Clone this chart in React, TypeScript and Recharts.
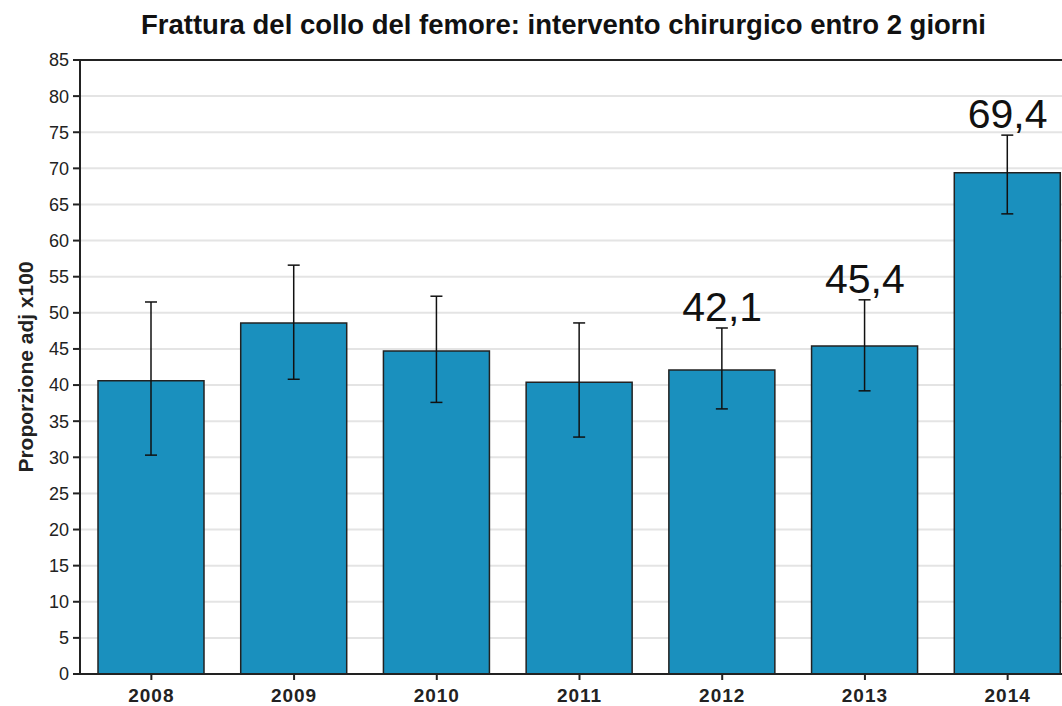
import { ComposedChart, Bar, Line, XAxis, YAxis, CartesianGrid, ErrorBar, LabelList, ReferenceLine, Label } from 'recharts';

const years = ['2008', '2009', '2010', '2011', '2012', '2013', '2014'];
const values = [40.6, 48.6, 44.7, 40.4, 42.1, 45.4, 69.4];
const lower = [30.3, 40.8, 37.6, 32.8, 36.7, 39.2, 63.7];
const upper = [51.5, 56.6, 52.3, 48.6, 47.9, 51.8, 74.6];
const labelled = ['2012', '2013', '2014'];
const yTicks = [0, 5, 10, 15, 20, 25, 30, 35, 40, 45, 50, 55, 60, 65, 70, 75, 80, 85];

const data = years.map((y, i) => ({
  year: y,
  value: values[i],
  err: [values[i] - lower[i], upper[i] - values[i]],
  labelPos: labelled.includes(y) ? upper[i] : null,
  labelText: labelled.includes(y) ? values[i].toFixed(1).replace('.', ',') : '',
}));

const font = '"Liberation Sans", Arial, sans-serif';

export default function App() {
  return (
    <div style={{ position: 'fixed', left: 0, top: 0, width: 1062, height: 706, overflow: 'hidden', background: '#fff', fontFamily: font }}>
      <div style={{ position: 'absolute', left: 0, top: 11, width: 1127, textAlign: 'center', fontSize: 27.5, lineHeight: '28px', fontWeight: 'bold', color: '#111' }}>
        Frattura del collo del femore: intervento chirurgico entro 2 giorni
      </div>
      <ComposedChart width={1100} height={706} data={data} margin={{ top: 60, right: 21, left: 0, bottom: 0 }}>
        <CartesianGrid vertical={false} stroke="#e4e4e4" strokeWidth={2} />
        <XAxis dataKey="year" height={32} stroke="#222" strokeWidth={2} tickSize={6} tickMargin={9}
          tick={{ fontSize: 19, fontWeight: 'bold', fill: '#222', fontFamily: font, letterSpacing: 1 }} />
        <YAxis width={80} domain={[0, 85]} ticks={yTicks} interval={0} stroke="#222" strokeWidth={2} tickSize={7} tickMargin={4}
          tick={{ fontSize: 18, fill: '#222', fontFamily: font }}>
          <Label content={({ viewBox }: any) => (
            <text x={0} y={0} transform={`translate(33, ${viewBox.y + viewBox.height / 2}) rotate(-90)`}
              textAnchor="middle" fontSize={21} fontWeight="bold" fill="#222" fontFamily={font}>
              Proporzione adj x100
            </text>
          )} />
        </YAxis>
        <ReferenceLine y={85} stroke="#222" strokeWidth={2} />
        <Bar dataKey="value" fill="#1a90be" stroke="#222" strokeWidth={1.5} barSize={106} isAnimationActive={false}>
          <ErrorBar dataKey="err" width={6} stroke="#111" strokeWidth={1.5} direction="y" />
        </Bar>
        <Line dataKey="labelPos" stroke="none" dot={false} activeDot={false} isAnimationActive={false}>
          <LabelList dataKey="labelText" position="top" offset={7} fontSize={41} fill="#111" fontFamily={font} />
        </Line>
      </ComposedChart>
    </div>
  );
}
